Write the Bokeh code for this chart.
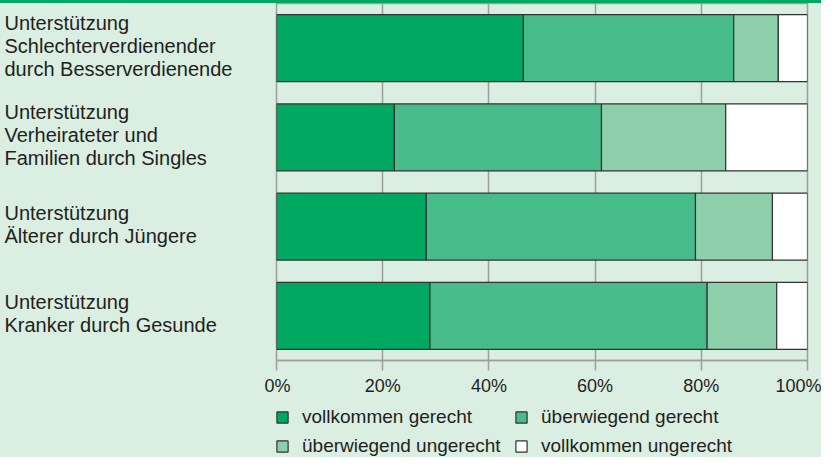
from bokeh.plotting import figure
from bokeh.models import (ColumnDataSource, FactorRange, Range1d, FixedTicker,
                          Legend, LegendItem, Div)
from bokeh.layouts import column, row
from bokeh.core.properties import value
from bokeh.embed import file_html
from bokeh.resources import INLINE

# ---- data ----
categories = [
    "Unterstützung\nSchlechterverdienender\ndurch Besserverdienende",
    "Unterstützung\nVerheirateter und\nFamilien durch Singles",
    "Unterstützung\nÄlterer durch Jüngere",
    "Unterstützung\nKranker durch Gesunde",
]
vollkommen_gerecht = [46.5, 22.2, 28.2, 28.9]
ueberwiegend_gerecht = [39.6, 39.0, 50.7, 52.2]
ueberwiegend_ungerecht = [8.4, 23.4, 14.5, 13.1]
vollkommen_ungerecht = [5.5, 15.4, 6.6, 5.8]
series_names = ["vollkommen gerecht", "überwiegend gerecht",
                "überwiegend ungerecht", "vollkommen ungerecht"]
tick_values = [0, 20, 40, 60, 80, 100]
tick_labels = ["0%", "20%", "40%", "60%", "80%", "100%"]

# ---- style ----
BG = "#daeee2"
TOP_GREEN = "#00a862"
colors = ["#00a862", "#48bb8b", "#8ccfaa", "#ffffff"]
GRID = "#9e9e9e"
TXT = "#231f20"
FONT = "Liberation Sans"

keys = ["s0", "s1", "s2", "s3"]
data = dict(
    s0=vollkommen_gerecht,
    s1=ueberwiegend_gerecht,
    s2=ueberwiegend_ungerecht,
    s3=vollkommen_ungerecht,
)
source = ColumnDataSource(dict(cat=categories, **data))

H = 397
BOTTOM = 40
LEFT_W = 264
W = 821
bar_style = dict(height=0.75, fill_color=colors, line_color="#333333", line_width=1.2)
bg_style = {"background-color": BG}


def plain(fig):
    fig.outline_line_color = None
    fig.axis.visible = False
    fig.grid.grid_line_color = None


# left panel: category labels
left = figure(
    width=LEFT_W, height=H, x_range=Range1d(0, LEFT_W),
    y_range=FactorRange(factors=list(reversed(categories)), range_padding=0),
    output_backend="svg", toolbar_location=None,
    min_border_left=0, min_border_right=0, min_border_top=0, min_border_bottom=BOTTOM,
    background_fill_color=None, border_fill_color=BG, styles=bg_style,
)
plain(left)
left.text(x=0, y="cat", text="cat", source=source, x_offset=4, y_offset=-2,
          text_align="left", text_baseline="middle",
          text_font=value(FONT), text_font_size="20px",
          text_color=TXT, text_line_height=1.05)

# main chart
p = figure(
    width=W - LEFT_W, height=H,
    x_range=Range1d(0, 100),
    y_range=FactorRange(factors=list(reversed(categories)), range_padding=0),
    output_backend="svg", toolbar_location=None,
    min_border_left=12, min_border_right=14,
    min_border_top=0, min_border_bottom=BOTTOM,
    background_fill_color=BG, border_fill_color=BG, styles=bg_style,
)
p.outline_line_color = GRID
p.outline_line_width = 1.5
p.hbar_stack(keys, y="cat", source=source, **bar_style)

p.yaxis.visible = False
xa = p.xaxis[0]
xa.ticker = FixedTicker(ticks=tick_values, minor_ticks=[])
xa.major_label_overrides = {v: l for v, l in zip(tick_values, tick_labels)}
xa.axis_line_color = GRID
xa.axis_line_width = 1.5
xa.major_tick_line_color = GRID
xa.major_tick_line_width = 1.5
xa.major_tick_out = 10
xa.major_tick_in = 0
xa.minor_tick_line_color = None
xa.major_label_text_font = FONT
xa.major_label_text_font_size = "18px"
xa.major_label_text_color = TXT
xa.major_label_standoff = 5

p.xgrid.ticker = FixedTicker(ticks=tick_values)
p.xgrid.grid_line_color = GRID
p.xgrid.grid_line_width = 1.5
p.ygrid.grid_line_color = None

# legend strip: its own figure; the legend's proxy bars lie outside its view
lg = figure(
    width=W, height=57, x_range=Range1d(-300, -200), y_range=Range1d(0, 1),
    output_backend="svg", toolbar_location=None,
    min_border_left=275, min_border_right=0, min_border_top=0, min_border_bottom=0,
    background_fill_color=None, border_fill_color=BG, styles=bg_style,
)
plain(lg)
proxy_source = ColumnDataSource(dict(y=[-50] * len(categories), **data))
lg_renderers = lg.hbar_stack(keys, y="y", source=proxy_source, **bar_style)
legend = Legend(
    items=[LegendItem(label=n, renderers=[r]) for n, r in zip(series_names, lg_renderers)],
    location=(0, 0), orientation="horizontal", ncols=2,
    glyph_width=14, glyph_height=14, label_standoff=13,
    spacing=7, label_width=205, padding=0, margin=0,
    background_fill_alpha=0, border_line_alpha=0,
    label_text_font=FONT, label_text_font_size="19px",
    label_text_color=TXT,
)
lg.add_layout(legend)

bar = Div(text="", width=W, height=3, margin=0,
          styles={"background-color": TOP_GREEN})
page = column(bar, row(left, p, spacing=0, margin=0, styles=bg_style), lg,
              spacing=0, margin=0, styles=bg_style)

open("out.html", "w").write(file_html(page, INLINE))
